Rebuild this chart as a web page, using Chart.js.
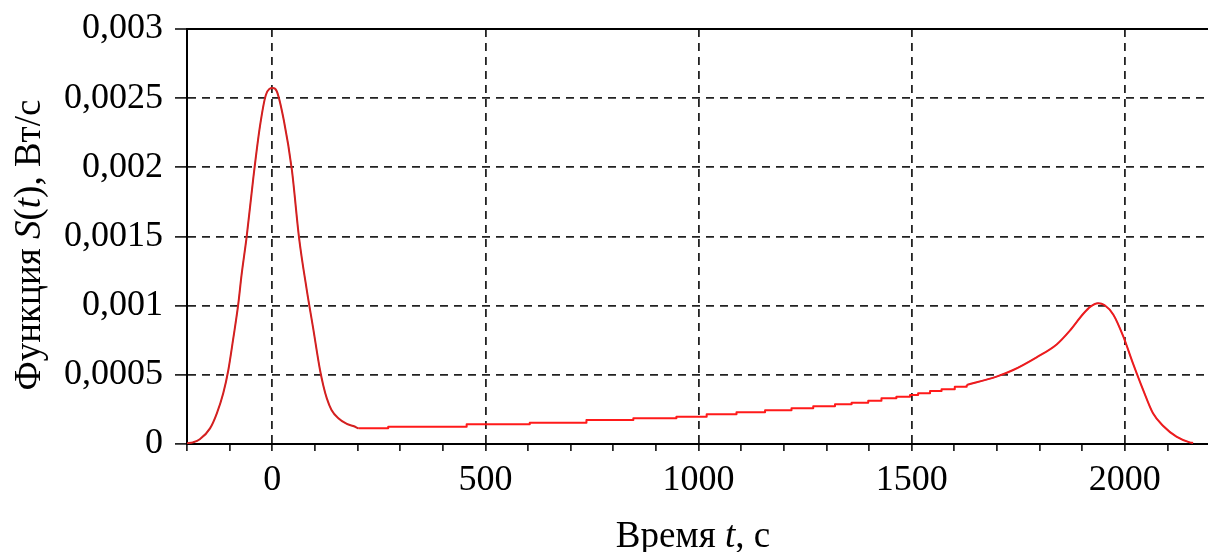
<!DOCTYPE html>
<html><head><meta charset="utf-8">
<script src="https://cdn.jsdelivr.net/npm/chart.js@4"></script>
<style>html,body{margin:0;padding:0;background:#fff}#wrap{width:1208px;height:552px;position:relative}</style>
</head><body><div id="wrap"><canvas id="c" width="1208" height="552"></canvas></div>
<script>
// ---- data ----
const peakT = [-200, -186, -170, -146, -130, -115, -103, -92, -80, -72, -60, -45, -29, -15, 1, 10, 27, 46, 63, 81, 96, 112, 120, 128, 139, 155, 175, 190, 202];
const peakS = [0.000005, 0.000012, 0.000034, 0.000113, 0.000222, 0.000367, 0.000535, 0.000752, 0.001005, 0.001222, 0.001499, 0.001908, 0.002294, 0.002523, 0.002573, 0.002554, 0.002342, 0.001981, 0.001487, 0.001113, 0.000836, 0.000535, 0.00042, 0.00033, 0.000246, 0.000186, 0.000145, 0.00013, 0.000113];

const stepT = [202, 272, 456, 604, 737, 847, 948, 1019, 1089, 1156, 1218, 1269, 1320, 1359, 1398, 1429, 1464, 1496, 1515, 1543, 1570, 1601, 1629];
const stepS = [0.0001135, 0.000125, 0.0001424, 0.000154, 0.0001735, 0.0001858, 0.000197, 0.0002147, 0.0002292, 0.0002436, 0.0002581, 0.0002726, 0.000287, 0.0002986, 0.000313, 0.0003304, 0.0003419, 0.0003542, 0.0003665, 0.0003831, 0.0003954, 0.0004142, 0.0004265];

const humpT = [1629, 1699, 1738, 1793, 1840, 1871, 1902, 1920, 1937, 1952, 1973, 1996, 2019, 2043, 2066, 2090, 2121, 2152, 2160];
const humpS = [0.000427, 0.000487, 0.000535, 0.000627, 0.00072, 0.00082, 0.00094, 0.000995, 0.001018, 0.001005, 0.000935, 0.00078, 0.000583, 0.00039, 0.000222, 0.00013, 0.000053, 0.000012, 0.000008];

const xMinorTicks = [-200, -100, 0, 100, 200, 300, 400, 500, 600, 700, 800, 900, 1000, 1100, 1200, 1300, 1400, 1500, 1600, 1700, 1800, 1900, 2000, 2100];
const xTickValues = [0, 500, 1000, 1500, 2000];
const xTickLabels = ['0', '500', '1000', '1500', '2000'];
const yTickValues = [0, 0.0005, 0.001, 0.0015, 0.002, 0.0025, 0.003];
const yTickLabels = ['0', '0,0005', '0,001', '0,0015', '0,002', '0,0025', '0,003'];

const xTitleParts = [{text: 'Время ', it: false}, {text: 't', it: true}, {text: ', с', it: false}];
const yTitleParts = [{text: 'Функция ', it: false}, {text: 'S', it: true}, {text: '(', it: false}, {text: 't', it: true}, {text: '), Вт/с', it: false}];

// ---- helpers ----
const FAMILY = '"Liberation Serif", "Times New Roman", serif';
const TICK_SIZE = 36;
const TITLE_SIZE = 37;
const pts = (t, s) => t.map((v, i) => ({x: v, y: s[i]}));
const near = (a, b) => Math.abs(a - b) < 1e-9;

function fontOf(p) { return (p.it ? 'italic ' : '') + TITLE_SIZE + 'px ' + FAMILY; }
function drawRich(ctx, parts, cx, baseline) {
  let total = 0;
  parts.forEach(p => { ctx.font = fontOf(p); total += ctx.measureText(p.text).width; });
  let x = cx - total / 2;
  ctx.textAlign = 'left'; ctx.textBaseline = 'alphabetic';
  parts.forEach(p => { ctx.font = fontOf(p); ctx.fillText(p.text, x, baseline); x += ctx.measureText(p.text).width; });
}

const titlePlugin = {
  id: 'richTitles',
  afterDraw(chart) {
    const ctx = chart.ctx;
    ctx.save();
    ctx.fillStyle = '#000';
    drawRich(ctx, xTitleParts, 693, 547);
    ctx.translate(40, 245);
    ctx.rotate(-Math.PI / 2);
    drawRich(ctx, yTitleParts, 0, 0);
    ctx.restore();
  }
};

const GRID = '#222222';
const DASH = [8, 6];

new Chart(document.getElementById('c'), {
  type: 'line',
  data: {
    datasets: [
      {data: pts(peakT, peakS), borderColor: '#d42020', borderWidth: 2, pointRadius: 0, cubicInterpolationMode: 'monotone', fill: false},
      {data: pts(peakT, peakS), borderColor: 'rgba(70,0,70,0.55)', borderWidth: 1, pointRadius: 0, cubicInterpolationMode: 'monotone', fill: false},
      {data: pts(stepT, stepS), borderColor: '#ff1a1a', borderWidth: 2, pointRadius: 0, stepped: 'before', fill: false},
      {data: pts(humpT, humpS), borderColor: '#ee1c1c', borderWidth: 2, pointRadius: 0, cubicInterpolationMode: 'monotone', fill: false},
      {data: pts(humpT, humpS), borderColor: 'rgba(40,0,200,0.6)', borderWidth: 1.2, pointRadius: 0, cubicInterpolationMode: 'monotone', fill: false}
    ]
  },
  options: {
    responsive: false,
    animation: false,
    devicePixelRatio: 1,
    layout: {padding: {top: 29, right: 0, left: 0, bottom: 0}},
    plugins: {legend: {display: false}, tooltip: {enabled: false}},
    elements: {line: {borderJoinStyle: 'round'}},
    scales: {
      x: {
        type: 'linear', min: -200, max: 2195,
        afterBuildTicks: (s) => { s.ticks = xMinorTicks.map(v => ({value: v})); },
        ticks: {
          autoSkip: false, maxRotation: 0, minRotation: 0, padding: 8,
          color: '#000', font: {family: FAMILY, size: TICK_SIZE},
          callback: (v) => { const i = xTickValues.findIndex(t => near(t, v)); return i >= 0 ? xTickLabels[i] : ''; }
        },
        grid: {
          color: (c) => (c.tick && xTickValues.some(t => near(t, c.tick.value))) ? GRID : 'rgba(0,0,0,0)',
          lineWidth: 1.8, tickColor: '#000', tickLength: 7, tickWidth: 1.5, drawTicks: true
        },
        border: {display: true, color: '#000', width: 2, dash: DASH},
        afterFit: (s) => { s.height = 552 - 444; }
      },
      y: {
        type: 'linear', min: 0, max: 0.003,
        afterBuildTicks: (s) => { s.ticks = yTickValues.map(v => ({value: v})); },
        ticks: {
          padding: 12, color: '#000', font: {family: FAMILY, size: TICK_SIZE, lineHeight: 0.8},
          callback: (v) => { const i = yTickValues.findIndex(t => near(t, v)); return i >= 0 ? yTickLabels[i] : ''; }
        },
        grid: {
          color: (c) => (c.tick && near(c.tick.value, 0.003)) ? '#000' : GRID,
          lineWidth: (c) => (c.tick && near(c.tick.value, 0.003)) ? 2 : 1.8,
          tickColor: '#000', tickLength: 12, tickWidth: 1.5
        },
        border: {display: true, color: '#000', width: 2,
          dash: (c) => (c.tick && near(c.tick.value, 0.003)) ? [] : DASH},
        afterFit: (s) => { s.width = 187; }
      }
    }
  },
  plugins: [titlePlugin]
});
</script>
</body></html>
